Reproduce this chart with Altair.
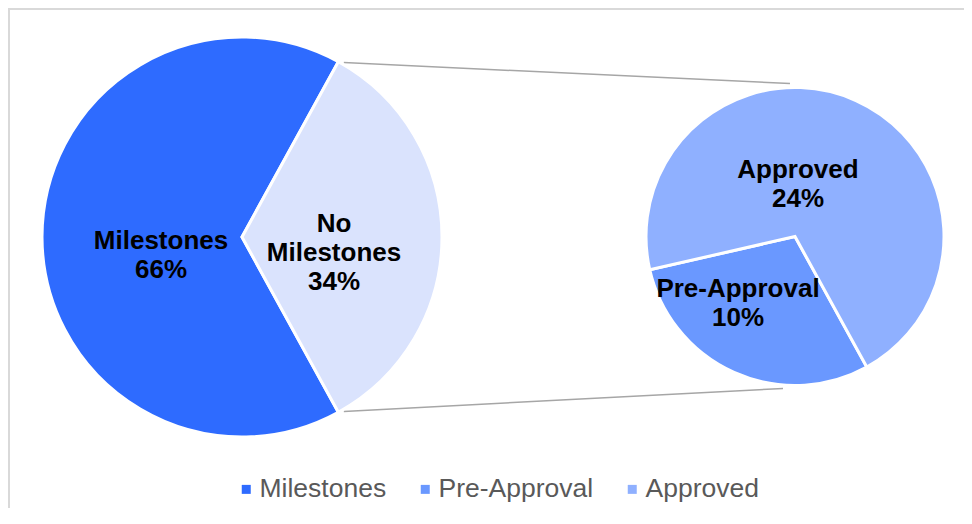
import math
import altair as alt
import pandas as pd

# ---- data ----
main_labels = ["Milestones", "No Milestones"]
main_values = [66, 34]
sub_labels = ["Pre-Approval", "Approved"]
sub_values = [10, 24]
legend_labels = ["Milestones", "Pre-Approval", "Approved"]
palette = {
    "Milestones": "#2E6BFF",
    "No Milestones": "#DAE3FD",
    "Pre-Approval": "#6A98FF",
    "Approved": "#8FB0FF",
}

# ---- layout (chart coordinates) ----
W, H = 956, 500
C1, R1 = (234, 229), 200
C2, R2 = (787, 228.5), 149
FONT = "Liberation Sans"
LINE_H = 29
LABEL_OFFSETS = {
    "Milestones": (-81, 18.5),
    "No Milestones": (92, 16),
    "Pre-Approval": (-57, 66.5),
    "Approved": (3, -52.5),
}

total = sum(main_values)
split_frac = main_values[1] / total
a_start = math.pi / 2 - math.pi * split_frac   # start of "No Milestones"
a_end = math.pi / 2 + math.pi * split_frac     # end of "No Milestones"

dom = list(palette.keys())
color_scale = alt.Scale(domain=dom, range=[palette[k] for k in dom])
color_enc = alt.Color(
    "label:N",
    scale=color_scale,
    legend=alt.Legend(
        values=legend_labels,
        orient="none",
        legendX=225,
        legendY=468,
        direction="horizontal",
        title=None,
        symbolType="square",
        symbolSize=81,
        symbolStrokeWidth=0,
        labelFont=FONT,
        labelFontSize=26.5,
        labelColor="#595959",
        labelOffset=0,
        columnPadding=25,
        padding=0,
    ),
)

main_df = pd.DataFrame({"label": main_labels, "value": main_values, "order": [1, 0]})
sub_df = pd.DataFrame({"label": sub_labels, "value": sub_values, "order": [0, 1]})

main_pie = alt.Chart(main_df).mark_arc(
    radius=R1, stroke="white", strokeWidth=3
).encode(
    theta=alt.Theta("value:Q", stack=True,
                    scale=alt.Scale(range=[a_start, a_start + 2 * math.pi])),
    order=alt.Order("order:Q"),
    color=color_enc,
    x=alt.value(C1[0]),
    y=alt.value(C1[1]),
)

sub_pie = alt.Chart(sub_df).mark_arc(
    radius=R2, stroke="white", strokeWidth=3
).encode(
    theta=alt.Theta("value:Q", stack=True,
                    scale=alt.Scale(range=[a_end, a_end + 2 * math.pi])),
    order=alt.Order("order:Q"),
    color=alt.Color("label:N", scale=color_scale, legend=None),
    x=alt.value(C2[0]),
    y=alt.value(C2[1]),
)

# ---- labels ----
rows = []
for lab, val in zip(main_labels, main_values):
    rows.append((lab.replace("No ", "No\n") + f"\n{val}%", C1, LABEL_OFFSETS[lab]))
for lab, val in zip(sub_labels, sub_values):
    rows.append((f"{lab}\n{val}%", C2, LABEL_OFFSETS[lab]))
label_df = pd.DataFrame([
    {"text": t,
     "x": c[0] + o[0],
     "y": c[1] + o[1] - (t.count("\n")) * LINE_H / 2}
    for t, c, o in rows
])

labels = alt.Chart(label_df).mark_text(
    font=FONT, fontSize=26, fontWeight="bold", color="black",
    align="center", baseline="middle", lineBreak="\n", lineHeight=LINE_H,
).encode(
    x=alt.X("x:Q", scale=None),
    y=alt.Y("y:Q", scale=None),
    text="text:N",
)

# ---- connector lines (from split points of main pie to top/bottom of sub pie) ----
conn = []
for ang, (ex, ey) in [(a_start, (C2[0] - 5, C2[1] - R2 - 4)),
                      (a_end, (C2[0] - 12, C2[1] + R2 + 3))]:
    sx = C1[0] + (R1 - 1) * math.sin(ang) + 6
    sy = C1[1] - (R1 - 1) * math.cos(ang)
    conn.append({"x": sx, "y": sy, "x2": ex, "y2": ey})
conn_df = pd.DataFrame(conn)

connectors = alt.Chart(conn_df).mark_rule(color="#A6A6A6", strokeWidth=1.5).encode(
    x=alt.X("x:Q", scale=None),
    y=alt.Y("y:Q", scale=None),
    x2="x2:Q",
    y2="y2:Q",
)

# ---- chart frame (top and left edges visible in reference) ----
frame_top = alt.Chart(pd.DataFrame({"a": [0]})).mark_rule(
    color="#D9D9D9", strokeWidth=2
).encode(x=alt.value(0), x2=alt.value(W), y=alt.value(1))
frame_left = alt.Chart(pd.DataFrame({"a": [0]})).mark_rule(
    color="#D9D9D9", strokeWidth=2
).encode(y=alt.value(0), y2=alt.value(H), x=alt.value(1))

chart = alt.layer(
    frame_top, frame_left, connectors, main_pie, sub_pie, labels
).resolve_scale(
    theta="independent"
).properties(
    width=W, height=H, padding=0, autosize=alt.AutoSizeParams(type="none"),
    background="white",
).configure_view(stroke=None)

chart.save("out.html", embed_options={"renderer": "svg", "actions": False})
